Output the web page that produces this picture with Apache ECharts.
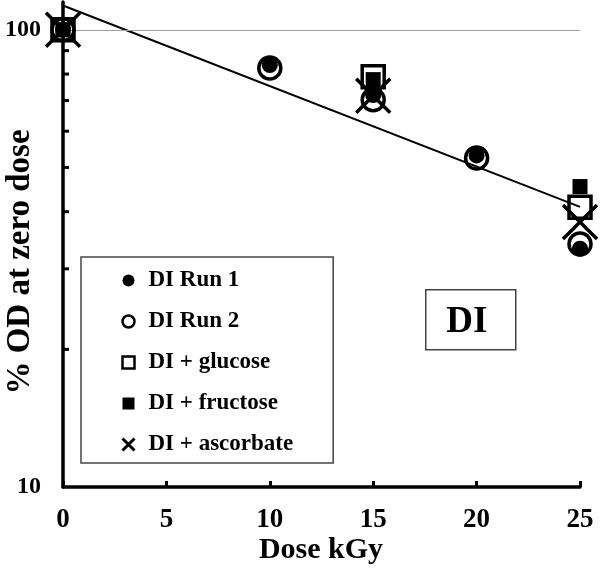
<!DOCTYPE html>
<html><head><meta charset="utf-8">
<script src="https://cdn.jsdelivr.net/npm/echarts@6/dist/echarts.min.js"></script>
<style>html,body{margin:0;padding:0;background:#fff}#c{width:603px;height:573px}</style>
</head><body><div id="c"></div>
<script>
const FONT = '"Liberation Serif","Times New Roman",serif';
// ---- data ----
const yLabelValues = [10, 100];
const yTickValues = [20, 30, 40, 50, 60, 70, 80, 90, 100];
const doseRun = [0, 10, 15, 20, 25];
const run1 = [100, 83.7, 72.0, 53.1, 33.2];
const run2 = [100, 82.5, 70.3, 52.4, 34.0];
const doseAdd = [0, 15, 25];
const glucose = [100, 78.9, 40.9];
const fructose = [100, 77.8, 45.4];
const ascorbate = [100, 71.7, 38.0];
const fitDose = [0, 25];
const fitValue = [113, 41];
const gridValue = 100;
const seriesNames = ['DI Run 1', 'DI Run 2', 'DI + glucose', 'DI + fructose', 'DI + ascorbate'];
const panelLabel = 'DI';
const xName = 'Dose kGy';
const yName = '% OD at zero dose';

const pairs = (xs, ys) => xs.map((x, i) => [x, ys[i]]);
const XPATH = 'path://M0,0L10,10M10,0L0,10';
const clear = 'rgba(0,0,0,0)';

const chart = echarts.init(document.getElementById('c'), null, {renderer: 'canvas'});
const isDecade = v => yLabelValues.some(t => Math.abs(t - v) < 1e-6);

chart.setOption({
  animation: false,
  backgroundColor: '#fff',
  grid: {left: 63, right: 23, top: 2, bottom: 86, containLabel: false, outerBoundsMode: 'none'},
  xAxis: {
    type: 'value', min: 0, max: 25, interval: 5,
    axisLine: {show: true, onZero: false, lineStyle: {color: '#000', width: 3.5}},
    axisTick: {show: true, inside: true, length: 6, lineStyle: {color: '#000', width: 3}},
    axisLabel: {fontFamily: FONT, fontWeight: 'bold', fontSize: 27, color: '#000', margin: 20},
    splitLine: {show: false}
  },
  yAxis: {
    type: 'log', logBase: 10, min: 10, max: 115,
    axisLine: {show: true, onZero: false, lineStyle: {color: '#000', width: 3.5}},
    axisTick: {show: false},
    axisLabel: {fontFamily: FONT, fontWeight: 'bold', fontSize: 24, color: '#000', margin: 22,
      formatter: v => isDecade(v) ? String(Math.round(v)) : ''},
    splitLine: {show: false}
  },
  legend: {
    orient: 'vertical', left: 81, top: 257,
    padding: [12, 40, 7, 40],
    itemGap: 18, itemWidth: 12, itemHeight: 12,
    borderColor: '#444', borderWidth: 1.5, backgroundColor: '#fff',
    selectedMode: false,
    textStyle: {fontFamily: FONT, fontWeight: 'bold', fontSize: 23, color: '#000', padding: [0, 0, 0, 9]},
    data: [
      {name: seriesNames[0], icon: 'circle'},
      {name: seriesNames[1], icon: 'circle', itemStyle: {borderWidth: 2.5}},
      {name: seriesNames[2], icon: 'rect', itemStyle: {borderWidth: 2.5}},
      {name: seriesNames[3], icon: 'rect'},
      {name: seriesNames[4], icon: XPATH, itemStyle: {borderWidth: 3}}
    ]
  },
  graphic: [
    {
      type: 'group', left: 425, top: 289, z: 100,
      children: [
        {type: 'rect', shape: {x: 0, y: 0, width: 90, height: 60}, style: {fill: '#fff', stroke: '#444', lineWidth: 1.5}},
        {type: 'text', x: 41, y: 33, style: {text: panelLabel, fill: '#000', font: 'bold 37px ' + FONT, align: 'center', verticalAlign: 'middle'}}
      ]
    },
    {type: 'text', x: 321, y: 550, z: 100,
      style: {text: xName, fill: '#000', font: 'bold 30px ' + FONT, align: 'center', verticalAlign: 'middle'}},
    {type: 'text', x: 20, y: 262, rotation: Math.PI / 2, z: 100,
      style: {text: yName, fill: '#000', font: 'bold 33px ' + FONT, align: 'center', verticalAlign: 'middle'}}
  ],
  series: [
    {
      type: 'line', name: 'fit', data: pairs(fitDose, fitValue), showSymbol: false, symbol: 'none',
      lineStyle: {color: '#000', width: 2}, silent: true, z: 1,
      markLine: {silent: true, symbol: 'none', label: {show: false},
        lineStyle: {color: '#a0a0a0', width: 1.2, type: 'solid'}, data: [{yAxis: gridValue}]}
    },
    {
      type: 'custom', name: 'yticks', silent: true, clip: false, z: 5,
      data: yTickValues.map(v => [0, v]),
      renderItem: (params, api) => {
        const p = api.coord([api.value(0), api.value(1)]);
        return {type: 'line', shape: {x1: p[0], y1: p[1], x2: p[0] + 6, y2: p[1]},
          style: {stroke: '#000', lineWidth: 3}};
      }
    },
    {type: 'scatter', name: seriesNames[0], data: pairs(doseRun, run1), symbol: 'circle', symbolSize: 16,
      itemStyle: {color: '#000', opacity: 1}, emphasis: {disabled: true}, z: 10},
    {type: 'scatter', name: seriesNames[1], data: pairs(doseRun, run2), symbol: 'circle', symbolSize: 22,
      itemStyle: {color: clear, borderColor: '#000', borderWidth: 3.5, opacity: 1}, emphasis: {disabled: true}, z: 10},
    {type: 'scatter', name: seriesNames[2], data: pairs(doseAdd, glucose), symbol: 'rect', symbolSize: 22,
      itemStyle: {color: clear, borderColor: '#000', borderWidth: 3.5, opacity: 1}, emphasis: {disabled: true}, z: 10},
    {type: 'scatter', name: seriesNames[3], data: pairs(doseAdd, fructose), symbol: 'rect', symbolSize: 15,
      itemStyle: {color: '#000', opacity: 1}, emphasis: {disabled: true}, z: 10},
    {type: 'scatter', name: seriesNames[4], data: pairs(doseAdd, ascorbate), symbol: XPATH, symbolSize: 34,
      itemStyle: {color: '#000', borderColor: '#000', borderWidth: 3.5, opacity: 1}, emphasis: {disabled: true}, z: 10}
  ]
});
</script></body></html>
